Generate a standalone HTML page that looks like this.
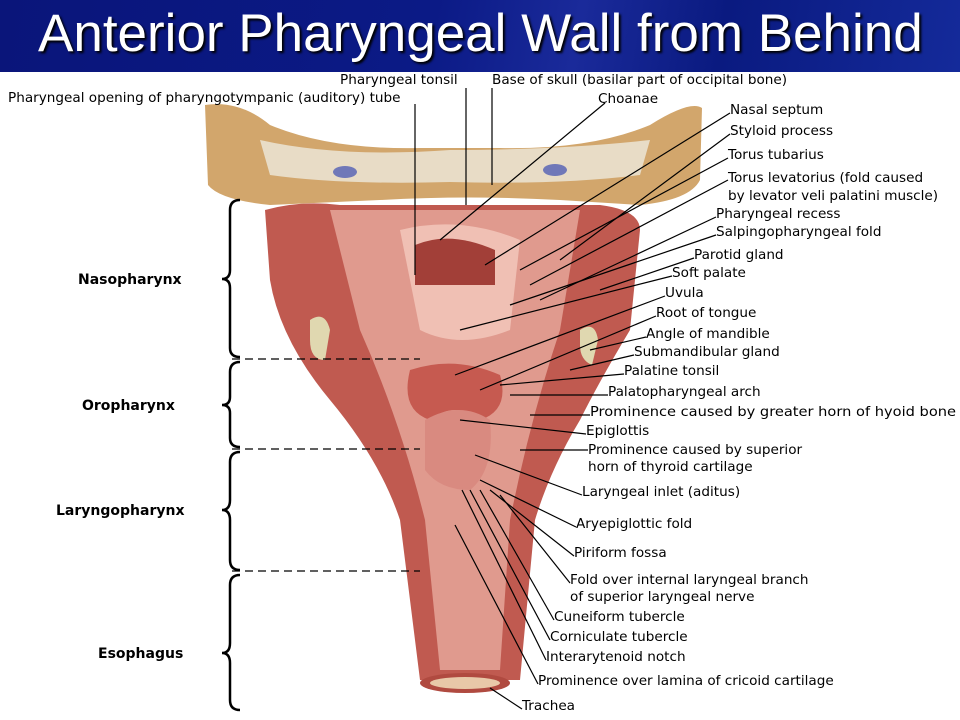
<!DOCTYPE html>
<html><head><meta charset="utf-8"><style>
body{margin:0;width:960px;height:720px;overflow:hidden;background:#fff;position:relative;font-family:"Liberation Sans",sans-serif}
.bar{position:absolute;left:0;top:0;width:960px;height:72px;background:linear-gradient(100deg,#0a157a 0%,#0b1a86 45%,#1a2a9a 60%,#0a1a80 75%,#142a9a 100%)}
.bar h1{margin:0;position:absolute;left:38px;top:3px;color:#fff;font-weight:normal;font-size:53px;text-shadow:2px 2px 2px #000;white-space:nowrap}
svg{position:absolute;left:0;top:0}
svg text{font-family:"DejaVu Sans",sans-serif;font-size:13.6px;fill:#000}
</style></head><body>
<div class="bar"><h1>Anterior Pharyngeal Wall from Behind</h1></div>
<svg width="960" height="720" viewBox="0 0 960 720">
<path d="M205,105 Q240,100 270,125 Q330,150 420,148 L500,148 Q590,150 650,125 Q690,100 702,108 L700,180 Q690,200 640,205 L560,200 Q470,195 380,200 L270,205 Q220,200 208,185 Z" fill="#d2a66c"/>
<path d="M260,140 Q340,158 450,150 Q560,150 650,140 L640,175 Q560,185 450,182 Q340,185 270,175 Z" fill="#e8dcc6"/>
<ellipse cx="345" cy="172" rx="12" ry="6" fill="#7078b8"/><ellipse cx="555" cy="170" rx="12" ry="6" fill="#7078b8"/>
<path d="M265,210 Q300,200 340,205 L600,205 Q640,210 640,230 L630,330 Q600,380 580,420 Q550,470 535,520 L520,680 L420,680 Q410,600 400,520 Q380,460 330,400 Q280,340 270,280 Z" fill="#c05a50"/>
<path d="M330,210 L580,210 L560,330 Q530,420 510,520 L500,670 L440,670 L425,520 Q400,420 360,330 Z" fill="#e09a8e"/>
<path d="M400,230 Q460,215 520,240 L510,330 Q460,350 420,330 Z" fill="#f0c0b4"/>
<path d="M415,245 Q450,230 495,250 L495,285 L415,285 Z" fill="#a23f38"/>
<path d="M410,370 Q455,355 500,375 Q510,410 480,420 Q455,400 430,420 Q400,410 410,370 Z" fill="#c65a50"/>
<path d="M425,420 Q460,400 490,420 Q495,470 470,490 Q440,490 425,470 Z" fill="#d98a80"/>
<ellipse cx="465" cy="683" rx="45" ry="10" fill="#b04a40"/><ellipse cx="465" cy="683" rx="35" ry="6" fill="#e8c8a8"/>
<path d="M310,320 Q325,310 330,330 L325,360 Q310,360 310,340 Z" fill="#e0d8b0"/>
<path d="M580,330 Q595,320 598,340 L592,365 Q580,360 580,345 Z" fill="#e0d8b0"/>
<g stroke="#000" stroke-width="2.5" fill="none">
<path d="M240,200 Q230,200 230,210 L230,270 Q230,279 222,279 Q230,279 230,288 L230,348 Q230,357 240,357"/>
<path d="M240,362 Q230,362 230,372 L230,397 Q230,405 222,405 Q230,405 230,413 L230,438 Q230,447 240,447"/>
<path d="M240,452 Q230,452 230,462 L230,500 Q230,510 222,510 Q230,510 230,520 L230,560 Q230,570 240,570"/>
<path d="M240,575 Q230,575 230,585 L230,643 Q230,653 222,653 Q230,653 230,663 L230,700 Q230,710 240,710"/>
</g>
<g stroke="#000" stroke-width="1.2" stroke-dasharray="8,5"><line x1="232" y1="359" x2="420" y2="359"/><line x1="232" y1="449" x2="420" y2="449"/><line x1="232" y1="571" x2="420" y2="571"/></g>
<g>
<text x="78" y="284" style="font-weight:bold;font-size:14px">Nasopharynx</text>
<text x="82" y="410" style="font-weight:bold;font-size:14px">Oropharynx</text>
<text x="56" y="515" style="font-weight:bold;font-size:14px">Laryngopharynx</text>
<text x="98" y="658" style="font-weight:bold;font-size:14px">Esophagus</text>
</g>
<g stroke="#000" stroke-width="1.2">
<line x1="415" y1="104" x2="415" y2="275"/>
<line x1="466" y1="88" x2="466" y2="205"/>
<line x1="492" y1="88" x2="492" y2="185"/>
<line x1="605" y1="103" x2="440" y2="240"/>
<line x1="730" y1="113" x2="485" y2="265"/>
<line x1="730" y1="134" x2="560" y2="260"/>
<line x1="728" y1="158" x2="520" y2="270"/>
<line x1="728" y1="180" x2="530" y2="285"/>
<line x1="716" y1="217" x2="540" y2="300"/>
<line x1="716" y1="235" x2="510" y2="305"/>
<line x1="694" y1="258" x2="600" y2="290"/>
<line x1="672" y1="276" x2="460" y2="330"/>
<line x1="665" y1="296" x2="455" y2="375"/>
<line x1="656" y1="316" x2="480" y2="390"/>
<line x1="646" y1="337" x2="590" y2="350"/>
<line x1="634" y1="355" x2="570" y2="370"/>
<line x1="624" y1="374" x2="500" y2="385"/>
<line x1="608" y1="395" x2="510" y2="395"/>
<line x1="590" y1="415" x2="530" y2="415"/>
<line x1="586" y1="434" x2="460" y2="420"/>
<line x1="588" y1="450" x2="520" y2="450"/>
<line x1="582" y1="495" x2="475" y2="455"/>
<line x1="576" y1="527" x2="480" y2="480"/>
<line x1="574" y1="556" x2="490" y2="490"/>
<line x1="570" y1="583" x2="500" y2="495"/>
<line x1="554" y1="620" x2="480" y2="490"/>
<line x1="550" y1="640" x2="470" y2="490"/>
<line x1="546" y1="660" x2="462" y2="490"/>
<line x1="538" y1="684" x2="455" y2="525"/>
<line x1="522" y1="709" x2="490" y2="688"/>
</g>
<g>
<text x="340" y="84">Pharyngeal tonsil</text>
<text x="492" y="84">Base of skull (basilar part of occipital bone)</text>
<text x="8" y="102">Pharyngeal opening of pharyngotympanic (auditory) tube</text>
<text x="598" y="103">Choanae</text>
<text x="730" y="114">Nasal septum</text>
<text x="730" y="135">Styloid process</text>
<text x="728" y="159">Torus tubarius</text>
<text x="728" y="182">Torus levatorius (fold caused</text>
<text x="728" y="200">by levator veli palatini muscle)</text>
<text x="716" y="218">Pharyngeal recess</text>
<text x="716" y="236">Salpingopharyngeal fold</text>
<text x="694" y="259">Parotid gland</text>
<text x="672" y="277">Soft palate</text>
<text x="665" y="297">Uvula</text>
<text x="656" y="317">Root of tongue</text>
<text x="646" y="338">Angle of mandible</text>
<text x="634" y="356">Submandibular gland</text>
<text x="624" y="375">Palatine tonsil</text>
<text x="608" y="396">Palatopharyngeal arch</text>
<text x="590" y="416" textLength="366" lengthAdjust="spacingAndGlyphs">Prominence caused by greater horn of hyoid bone</text>
<text x="586" y="435">Epiglottis</text>
<text x="588" y="454">Prominence caused by superior</text>
<text x="588" y="471">horn of thyroid cartilage</text>
<text x="582" y="496">Laryngeal inlet (aditus)</text>
<text x="576" y="528">Aryepiglottic fold</text>
<text x="574" y="557">Piriform fossa</text>
<text x="570" y="584">Fold over internal laryngeal branch</text>
<text x="570" y="601">of superior laryngeal nerve</text>
<text x="554" y="621">Cuneiform tubercle</text>
<text x="550" y="641">Corniculate tubercle</text>
<text x="546" y="661">Interarytenoid notch</text>
<text x="538" y="685">Prominence over lamina of cricoid cartilage</text>
<text x="522" y="710">Trachea</text>
</g>
</svg>
</body></html>
